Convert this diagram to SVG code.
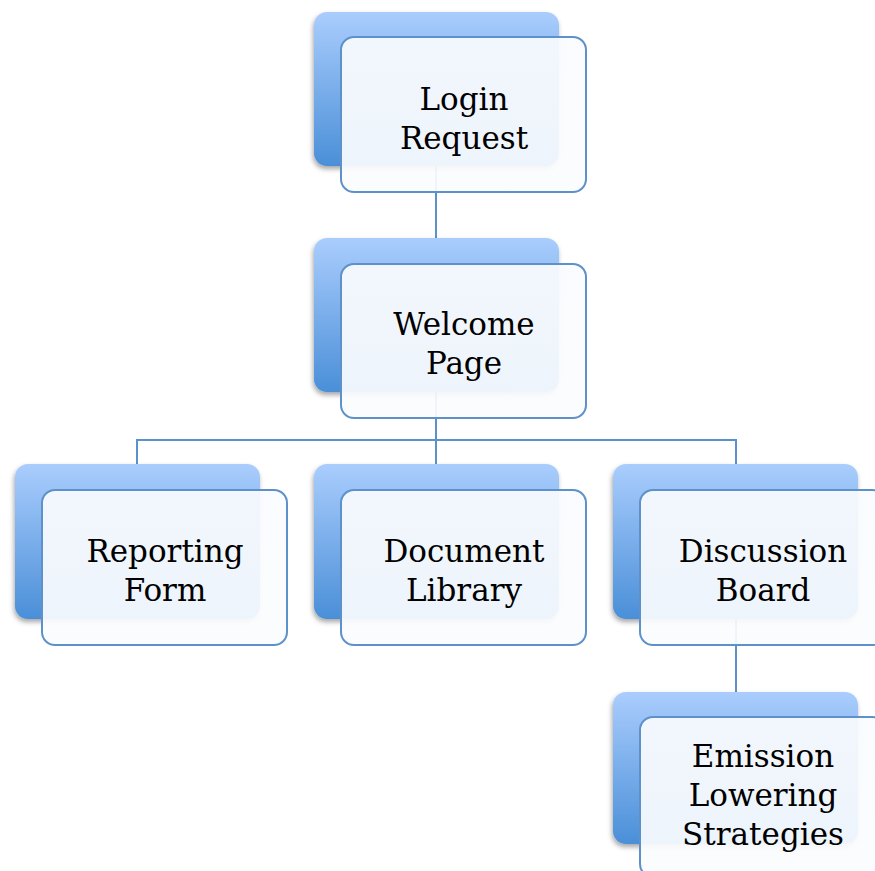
<svg xmlns="http://www.w3.org/2000/svg" width="875" height="871" viewBox="0 0 875 871">
<defs>
<linearGradient id="backGrad" x1="0" y1="0" x2="0" y2="1">
<stop offset="0" stop-color="#aacdfd"/>
<stop offset="1" stop-color="#4a8fd8"/>
</linearGradient>
<linearGradient id="frontGrad" x1="0" y1="0" x2="0" y2="1">
<stop offset="0" stop-color="#f9fbfe"/>
<stop offset="1" stop-color="#fbfcfe"/>
</linearGradient>
<filter id="shadow" x="-10%" y="-10%" width="125%" height="130%">
<feDropShadow dx="-1" dy="3" stdDeviation="2.5" flood-color="#000" flood-opacity="0.35"/>
</filter>
</defs>
<style>
.back{fill:url(#backGrad);filter:url(#shadow)}
.front{fill:url(#frontGrad);fill-opacity:0.93;stroke:#5d91c9;stroke-width:2}
.conn{stroke:#5d91c9;stroke-width:2;fill:none}
text{font-family:"DejaVu Serif","Liberation Serif",serif;font-size:31px;fill:#000;text-anchor:middle}
</style>
<g id="connectors">
<path class="conn" d="M436,166V238"/>
<path class="conn" d="M436,392V440M137,464V440H736V464M436,440V464"/>
<path class="conn" d="M736,619V692"/>
</g>
<g id="login">
<rect class="back" x="314" y="12" width="245" height="154" rx="13"/>
<rect class="front" x="341" y="37" width="245" height="155" rx="13"/>
<text x="464" y="110">Login</text>
<text x="464" y="149">Request</text>
</g>
<g id="welcome">
<rect class="back" x="314" y="238" width="245" height="154" rx="13"/>
<rect class="front" x="341" y="264" width="245" height="154" rx="13"/>
<text x="464" y="335">Welcome</text>
<text x="464" y="374">Page</text>
</g>
<g id="reporting">
<rect class="back" x="15" y="464" width="245" height="155" rx="13"/>
<rect class="front" x="42" y="490" width="245" height="155" rx="13"/>
<text x="165" y="562">Reporting</text>
<text x="165" y="601">Form</text>
</g>
<g id="document">
<rect class="back" x="314" y="464" width="245" height="155" rx="13"/>
<rect class="front" x="341" y="490" width="245" height="155" rx="13"/>
<text x="464" y="562">Document</text>
<text x="464" y="601">Library</text>
</g>
<g id="discussion">
<rect class="back" x="613" y="464" width="245" height="155" rx="13"/>
<rect class="front" x="640" y="490" width="245" height="155" rx="13"/>
<text x="763" y="562">Discussion</text>
<text x="763" y="601">Board</text>
</g>
<g id="emission">
<rect class="back" x="613" y="692" width="245" height="152" rx="13"/>
<rect class="front" x="640" y="717" width="245" height="160" rx="13"/>
<text x="763" y="767">Emission</text>
<text x="763" y="806">Lowering</text>
<text x="763" y="845">Strategies</text>
</g>
</svg>
